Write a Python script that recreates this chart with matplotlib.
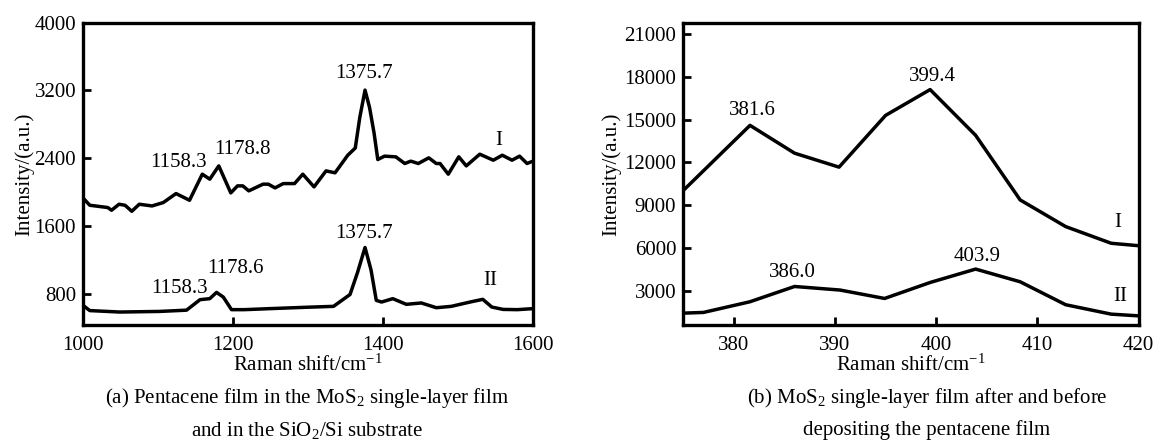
import matplotlib
matplotlib.use("Agg")
import matplotlib.pyplot as plt

plt.rcParams['font.family'] = ['Liberation Serif', 'DejaVu Serif']
plt.rcParams['mathtext.fontset'] = 'custom'
plt.rcParams['mathtext.rm'] = 'Liberation Serif'
plt.rcParams['mathtext.it'] = 'Liberation Serif:italic'

# (a) Pentacene Raman spectra, curve I (on MoS2) and curve II (on SiO2/Si)
a1_x = [1000, 1009, 1033, 1038, 1048, 1056, 1065, 1075, 1092, 1107, 1124, 1142,
        1159, 1169, 1181, 1197, 1206, 1213, 1221, 1240, 1247, 1256, 1267, 1282,
        1293, 1308, 1324, 1336, 1353, 1363, 1369, 1376, 1382, 1388, 1393, 1402,
        1417, 1429, 1437, 1447, 1461, 1471, 1476, 1487, 1501, 1511, 1529, 1547,
        1559, 1572, 1582, 1592, 1600]
a1_y = [1930, 1844, 1817, 1785, 1856, 1844, 1773, 1856, 1836, 1876, 1982, 1903,
        2211, 2152, 2309, 1990, 2073, 2073, 2014, 2093, 2093, 2049, 2100, 2100,
        2211, 2061, 2250, 2227, 2435, 2520, 2880, 3204, 3000, 2700, 2384, 2424,
        2416, 2337, 2365, 2337, 2404, 2337, 2337, 2211, 2416, 2309, 2447, 2376,
        2435, 2376, 2424, 2337, 2365]
a2_x = [1000, 1009, 1049, 1102, 1138, 1156, 1169, 1178, 1187, 1198, 1215, 1249,
        1300, 1334, 1356, 1366, 1376, 1384, 1391, 1398, 1413, 1431, 1451, 1471,
        1491, 1516, 1533, 1545, 1560, 1579, 1600]
a2_y = [662, 600, 583, 590, 605, 729, 741, 815, 760, 611, 611, 623,
        640, 650, 790, 1050, 1345, 1080, 721, 701, 741, 674, 690, 634,
        650, 701, 733, 642, 614, 611, 623]

# (b) MoS2 Raman spectra, curve I (after) and curve II (before)
b_x1 = [375, 381.6, 386.0, 390.4, 395.0, 399.4, 403.9, 408.3, 412.8, 417.3, 420]
b_y1 = [10030, 14600, 12650, 11670, 15300, 17110, 13900, 9370, 7500, 6330, 6160]
b_x2 = [375, 377, 381.6, 386.0, 390.5, 394.9, 399.4, 403.9, 408.3, 412.8, 417.3, 420]
b_y2 = [1430, 1480, 2230, 3300, 3050, 2460, 3580, 4520, 3630, 2020, 1360, 1240]

a_labels = [("1375.7", 1375, 3400), ("1178.8", 1213, 2500), ("1158.3", 1127, 2345),
            ("I", 1554, 2610), ("1375.7", 1375, 1510), ("1178.6", 1203, 1095),
            ("1158.3", 1129, 860), ("II", 1543, 960)]
b_labels = [("381.6", 381.8, 15650), ("399.4", 399.6, 18050), ("I", 417.9, 7800),
            ("403.9", 404.0, 5390), ("386.0", 385.8, 4290), ("II", 418.2, 2580)]

fs = 15
lw = 2.5

fig = plt.figure(figsize=(11.58, 4.4), dpi=100)
ax1 = fig.add_axes([0.0717, 0.2614, 0.3886, 0.687])
ax2 = fig.add_axes([0.590, 0.2614, 0.3932, 0.687])

ax1.plot(a1_x, a1_y, color='black', lw=lw)
ax1.plot(a2_x, a2_y, color='black', lw=lw)
ax1.set_xlim(1000, 1600)
ax1.set_ylim(430, 4000)
ax1.set_xticks([1000, 1200, 1400, 1600])
ax1.set_yticks([800, 1600, 2400, 3200, 4000])
for t, x, y in a_labels:
    ax1.text(x, y, t, ha='center', va='center', fontsize=fs)
ax1.set_ylabel("Intensity/(a.u.)", fontsize=fs, labelpad=0)
ax1.set_xlabel("Raman shift/cm$^{-1}$", fontsize=fs, labelpad=0)

ax2.plot(b_x1, b_y1, color='black', lw=lw)
ax2.plot(b_x2, b_y2, color='black', lw=lw)
ax2.set_xlim(375, 420)
ax2.set_ylim(600, 21800)
ax2.set_xticks([380, 390, 400, 410, 420])
ax2.set_yticks([3000, 6000, 9000, 12000, 15000, 18000, 21000])
for t, x, y in b_labels:
    ax2.text(x, y, t, ha='center', va='center', fontsize=fs)
ax2.set_ylabel("Intensity/(a.u.)", fontsize=fs, labelpad=2)
ax2.set_xlabel("Raman shift/cm$^{-1}$", fontsize=fs, labelpad=0)

for ax in (ax1, ax2):
    for s in ax.spines.values():
        s.set_linewidth(2.4)
    ax.tick_params(direction='in', length=6, width=2, labelsize=fs, pad=8,
                   top=False, right=False)
    ax.tick_params(axis='y', pad=5)

fig.text(307 / 1158, 1 - 398 / 440, "(a) Pentacene film in the MoS$_2$ single-layer film",
         ha='center', va='center', fontsize=fs)
fig.text(307 / 1158, 1 - 430 / 440, "and in the SiO$_2$/Si substrate",
         ha='center', va='center', fontsize=fs)
fig.text(927 / 1158, 1 - 398 / 440, "(b) MoS$_2$ single-layer film after and before",
         ha='center', va='center', fontsize=fs)
fig.text(927 / 1158, 1 - 430 / 440, "depositing the pentacene film",
         ha='center', va='center', fontsize=fs)

fig.savefig("out.png", dpi=100)
